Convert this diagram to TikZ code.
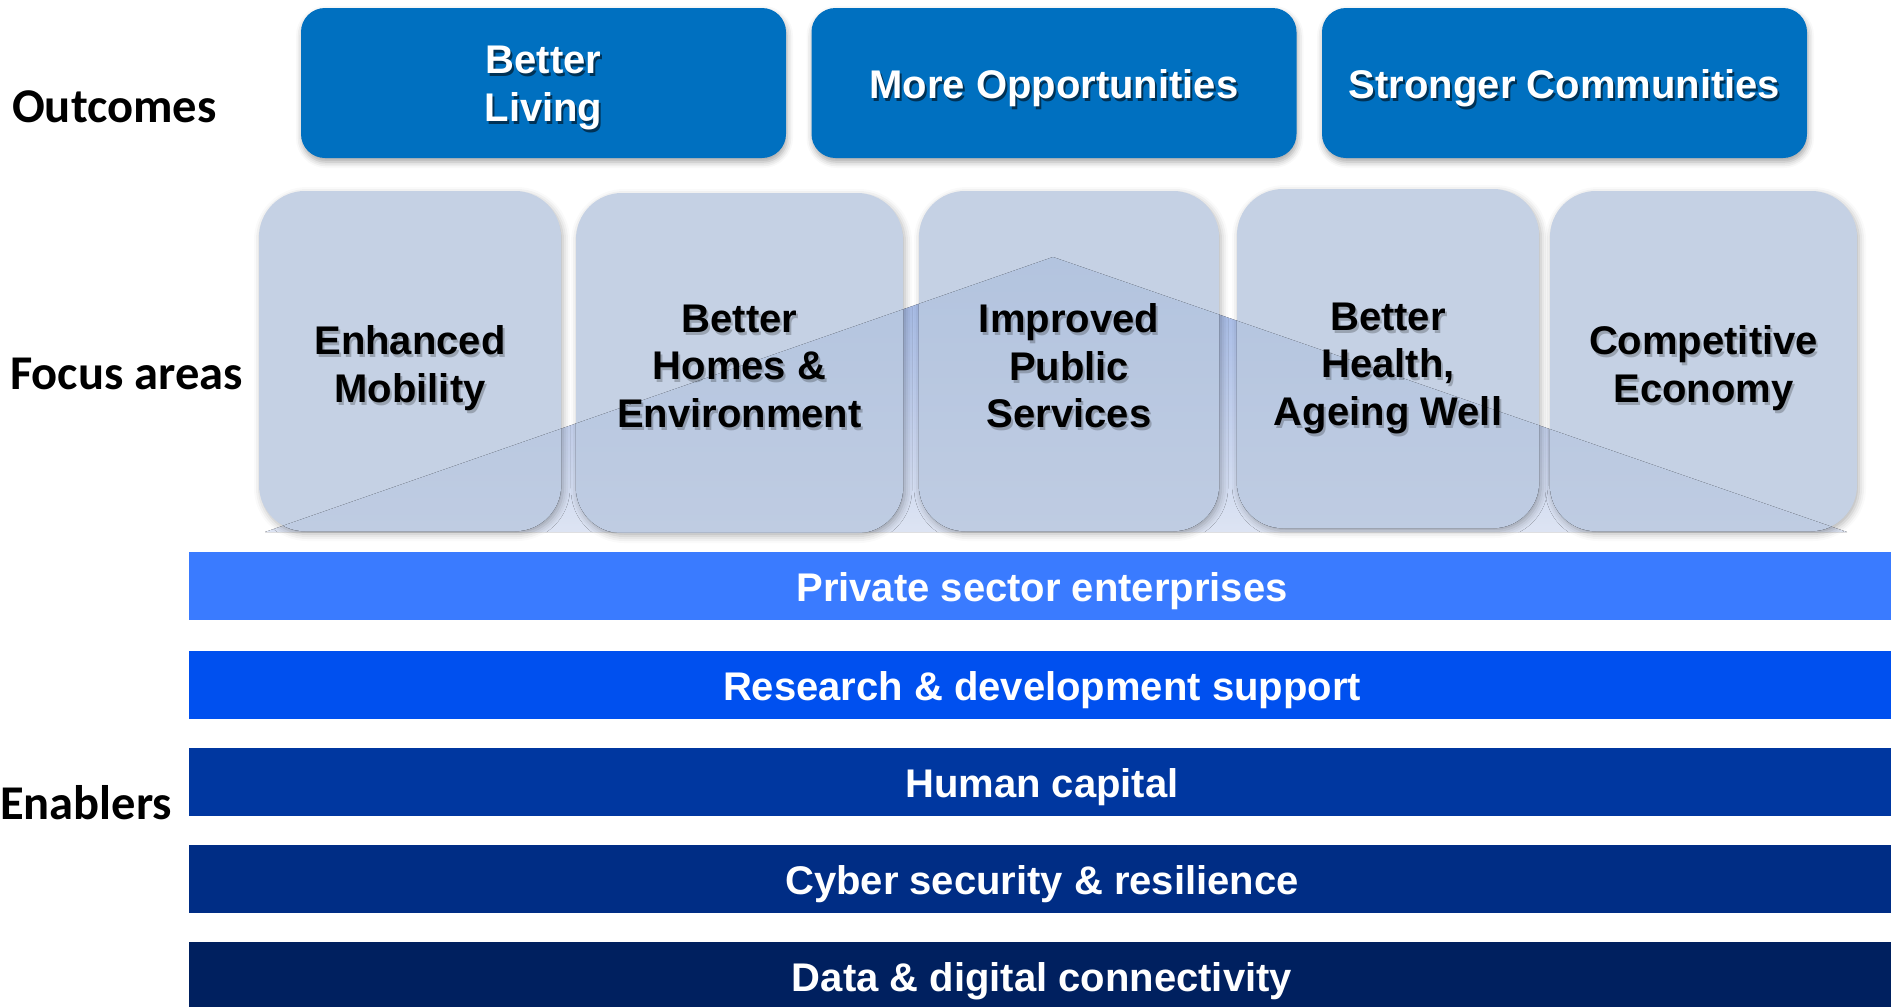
\documentclass[tikz,border=0pt]{standalone}
\usepackage{fontspec}
\setmainfont{Liberation Sans}
\newfontfamily\labfont{Carlito}
\usetikzlibrary{shadows.blur}
\definecolor{outc}{HTML}{0070C0}
\definecolor{faout}{HTML}{C5D1E4}
\definecolor{faintop}{HTML}{B3C4DF}
\definecolor{fainbot}{HTML}{BFCCE2}
\definecolor{tritop}{HTML}{9CB3E3}
\definecolor{tribot}{HTML}{DDE4F3}
\definecolor{barA}{HTML}{3A7BFF}
\definecolor{barB}{HTML}{0050EF}
\definecolor{barC}{HTML}{0037A0}
\definecolor{barD}{HTML}{002D85}
\definecolor{barE}{HTML}{00205F}
\begin{document}
\begin{tikzpicture}[x=1pt,y=1pt,
  bigfont/.style={font=\bfseries\fontsize{40}{47.5}\selectfont},
  boxlabel/.style={bigfont, align=center, inner sep=0pt},
  sidelabel/.style={font=\labfont\bfseries\fontsize{48.5}{56}\selectfont, anchor=west, inner sep=0pt},
  outbox/.style={fill=outc, rounded corners=24, inner sep=0pt,
    blur shadow={shadow xshift=1pt, shadow yshift=-4pt, shadow blur radius=6pt, shadow opacity=35}},
  fabox/.style={fill=faout, rounded corners=46, inner sep=0pt,
    blur shadow={shadow xshift=2pt, shadow yshift=-3pt, shadow blur radius=7pt, shadow opacity=30}},
  barbox/.style={inner sep=0pt, minimum width=1702, minimum height=68},
  bartext/.style={bigfont, text=white, inner sep=0pt},
  tshadowW/.style={boxlabel, text=black, opacity=0.55},
  tshadowB/.style={boxlabel, text=black, opacity=0.22},
]
\useasboundingbox (0,0) rectangle (1891,-1007);

% side labels
\node[sidelabel] (lout) at (12,-107) {Outcomes};
\node[sidelabel] (lfoc) at (10,-374) {Focus areas};
\node[sidelabel] (lena) at (0,-803) {Enablers};

% outcomes
\foreach \i/\cx/\t in {1/543.5/{Better\\Living}, 2/1054/{More Opportunities}, 3/1564.5/{Stronger Communities}}{
  \node[outbox, minimum width=485, minimum height=150] (o\i) at (\cx,-83) {};
  \node[tshadowW] (o\i s) at (\cx+2,-91) {\t};
  \node[boxlabel, text=white] (o\i t) at (\cx,-88) {\t};
}

% triangle
\fill[top color=tritop, bottom color=tribot] (265,-532) -- (1053,-257) -- (1847,-532) -- cycle;

% focus areas
\foreach \i/\cx/\cy/\w/\h/\ty/\t in {
  1/410/-361/302/340/-368/{Enhanced\\Mobility},
  2/739.5/-363/327/340/-366/{Better\\Homes \&\\Environment},
  3/1069/-361/300/340/-366/{Improved\\Public\\Services},
  4/1388/-358.5/302/339/-368/{Better\\Health,\\Ageing Well},
  5/1703.5/-361/307/340/-368/{Competitive\\Economy}}{
  \node[fabox, minimum width=\w, minimum height=\h] (fa\i) at (\cx,\cy) {};
  \begin{scope}
    \clip[rounded corners=46] (fa\i.south west) rectangle (fa\i.north east);
    \fill[top color=faintop, bottom color=fainbot] (265,-532) -- (1053,-257) -- (1847,-532) -- cycle;
  \end{scope}
  \node[tshadowB] (fa\i s) at (\cx+2,\ty-3) {\t};
  \node[boxlabel, text=black] (fa\i t) at (\cx,\ty) {\t};
}

% enablers
\foreach \i/\cy/\c/\t in {1/-586/barA/{Private sector enterprises},
  2/-685/barB/{Research \& development support},
  3/-782/barC/{Human capital},
  4/-879/barD/{Cyber security \& resilience},
  5/-976/barE/{Data \& digital connectivity}}{
  \node[barbox, fill=\c] (e\i) at (1040,\cy) {};
  \node[bartext] (e\i t) at (1042,\cy-5) {\t};
}
\end{tikzpicture}
\end{document}
